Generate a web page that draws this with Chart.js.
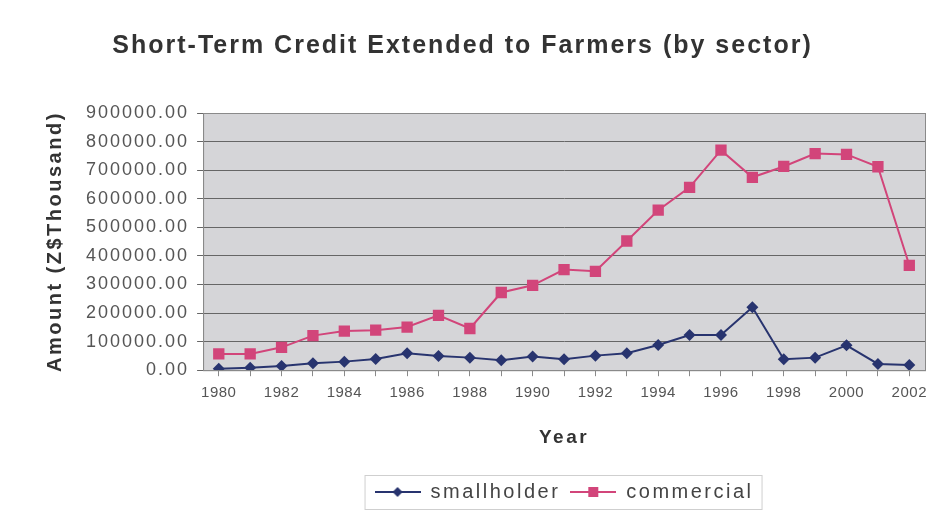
<!DOCTYPE html>
<html>
<head>
<meta charset="utf-8">
<script src="https://cdn.jsdelivr.net/npm/chart.js@4"></script>
<style>
  html, body { margin: 0; padding: 0; background: #fff; }
  #wrap { width: 936px; height: 512px; }
</style>
</head>
<body>
<div id="wrap"><canvas id="graph" width="936" height="512"></canvas></div>
<script>
var years = ["1980", "1981", "1982", "1983", "1984", "1985", "1986", "1987", "1988", "1989", "1990",
  "1991", "1992", "1993", "1994", "1995", "1996", "1997", "1998", "1999", "2000", "2001", "2002"];
var smallholder = [5000, 9000, 15000, 24000, 30000, 39000, 59000, 50000, 44000, 35000, 48000,
  38000, 51000, 59000, 88000, 123000, 123000, 220000, 38000, 44000, 87000, 22000, 18000];
var commercial = [57000, 57000, 80000, 121000, 137000, 140000, 151000, 192000, 146000, 272000, 297000,
  352000, 346000, 452000, 560000, 640000, 770000, 675000, 713000, 758000, 755000, 712000, 367000];

var navy = "#28346f";
var pink = "#d2457a";
var fontName = "Liberation Sans";

// the scanned chart has wide lettering: give each font a bit of letter spacing
var spacing = { b25: "2px", "18": "2px", "15": "0.5px", b20: "2.5px", b19: "2.5px", "20": "2.5px" };
var graphCtx = document.getElementById("graph").getContext("2d");
var fontProp = Object.getOwnPropertyDescriptor(CanvasRenderingContext2D.prototype, "font");
Object.defineProperty(graphCtx, "font", {
  get() {
    return fontProp.get.call(this);
  },
  set(v) {
    fontProp.set.call(this, v);
    var m = /(\d+)px/.exec(v);
    var key = (v.indexOf("bold") >= 0 ? "b" : "") + (m ? m[1] : "");
    this.letterSpacing = spacing[key] || "0px";
  },
});

// little line + marker pictures for the legend
function legendIcon(color, shape) {
  var c = document.createElement("canvas");
  c.width = 46;
  c.height = 14;
  var x = c.getContext("2d");
  x.strokeStyle = color;
  x.lineWidth = 2;
  x.beginPath();
  x.moveTo(0, 7);
  x.lineTo(46, 7);
  x.stroke();
  x.fillStyle = color;
  if (shape == "diamond") {
    x.beginPath();
    x.moveTo(23, 2);
    x.lineTo(28, 7);
    x.lineTo(23, 12);
    x.lineTo(18, 7);
    x.closePath();
    x.fill();
  } else {
    x.fillRect(18, 2, 10, 10);
  }
  return c;
}

var plotBg = {
  id: "plotBg",
  beforeDraw(chart) {
    var a = chart.chartArea;
    var ctx = chart.ctx;
    ctx.save();
    ctx.fillStyle = "#d5d5d8";
    ctx.fillRect(a.left, a.top, a.right - a.left, a.bottom - a.top);
    ctx.restore();
  },
  afterDraw(chart) {
    var a = chart.chartArea;
    var ctx = chart.ctx;
    ctx.save();
    ctx.strokeStyle = "#8a8a8a";
    ctx.lineWidth = 1;
    ctx.strokeRect(a.left + 0.5, a.top + 0.5, a.right - a.left, a.bottom - a.top);
    // legend frame
    var boxes = chart.legend.legendHitBoxes;
    if (boxes && boxes.length) {
      var l = boxes[0].left - 10;
      var last = boxes[boxes.length - 1];
      var r = last.left + last.width + 8;
      var t = boxes[0].top - 7;
      var h = boxes[0].height + 14;
      ctx.strokeStyle = "#cfcfcf";
      ctx.strokeRect(l + 0.5, t + 0.5, r - l, h);
    }
    ctx.restore();
  }
};

var graph = new Chart(graphCtx, {
  type: "line",
  data: {
    labels: years,
    datasets: [
      {
        label: "smallholder",
        data: smallholder,
        borderColor: navy,
        backgroundColor: navy,
        borderWidth: 2,
        pointStyle: "rectRot",
        pointRadius: 6,
        pointBorderWidth: 0,
        tension: 0,
      },
      {
        label: "commercial",
        data: commercial,
        borderColor: pink,
        backgroundColor: pink,
        borderWidth: 2,
        pointStyle: "rect",
        pointRadius: 8,
        pointBorderWidth: 0,
        tension: 0,
      },
    ],
  },
  options: {
    responsive: false,
    animation: false,
    layout: {
      padding: { left: 0, right: 11, top: 0, bottom: 0 },
    },
    plugins: {
      title: {
        display: true,
        text: "Short-Term Credit Extended to Farmers (by sector)",
        color: "#333",
        font: { family: fontName, size: 25, weight: "bold" },
        padding: { top: 31, bottom: 52 },
      },
      legend: {
        position: "bottom",
        fullSize: false,
        labels: {
          color: "#444",
          usePointStyle: true,
          pointStyleWidth: 46,
          font: { family: fontName, size: 20 },
          padding: 10,
          generateLabels(chart) {
            return [
              { text: "smallholder", pointStyle: legendIcon(navy, "diamond"), datasetIndex: 0, fontColor: "#444", lineWidth: 0 },
              { text: "commercial", pointStyle: legendIcon(pink, "square"), datasetIndex: 1, fontColor: "#444", lineWidth: 0 },
            ];
          },
        },
      },
      tooltip: { enabled: false },
    },
    scales: {
      x: {
        offset: true,
        grid: { display: true, drawOnChartArea: false, color: "#8a8a8a", tickLength: 6 },
        border: { color: "#8a8a8a" },
        ticks: {
          color: "#555",
          autoSkip: false,
          maxRotation: 0,
          padding: 8,
          font: { family: fontName, size: 15 },
          callback: function (v, i) {
            return i % 2 == 0 ? years[i] : "";
          },
        },
        title: {
          display: true,
          text: "Year",
          color: "#333",
          font: { family: fontName, size: 19, weight: "bold" },
          padding: { top: 16, bottom: 23 },
        },
      },
      y: {
        min: 0,
        max: 900000,
        grid: { color: "#666", tickLength: 6 },
        border: { color: "#8a8a8a" },
        ticks: {
          stepSize: 100000,
          color: "#555",
          padding: 8,
          font: { family: fontName, size: 18 },
          callback: function (v) {
            return v.toFixed(2);
          },
        },
        title: {
          display: true,
          text: "Amount (Z$Thousand)",
          color: "#333",
          font: { family: fontName, size: 20, weight: "bold" },
          padding: { top: 43, bottom: 11 },
        },
      },
    },
  },
  plugins: [plotBg],
});
</script>
</body>
</html>
